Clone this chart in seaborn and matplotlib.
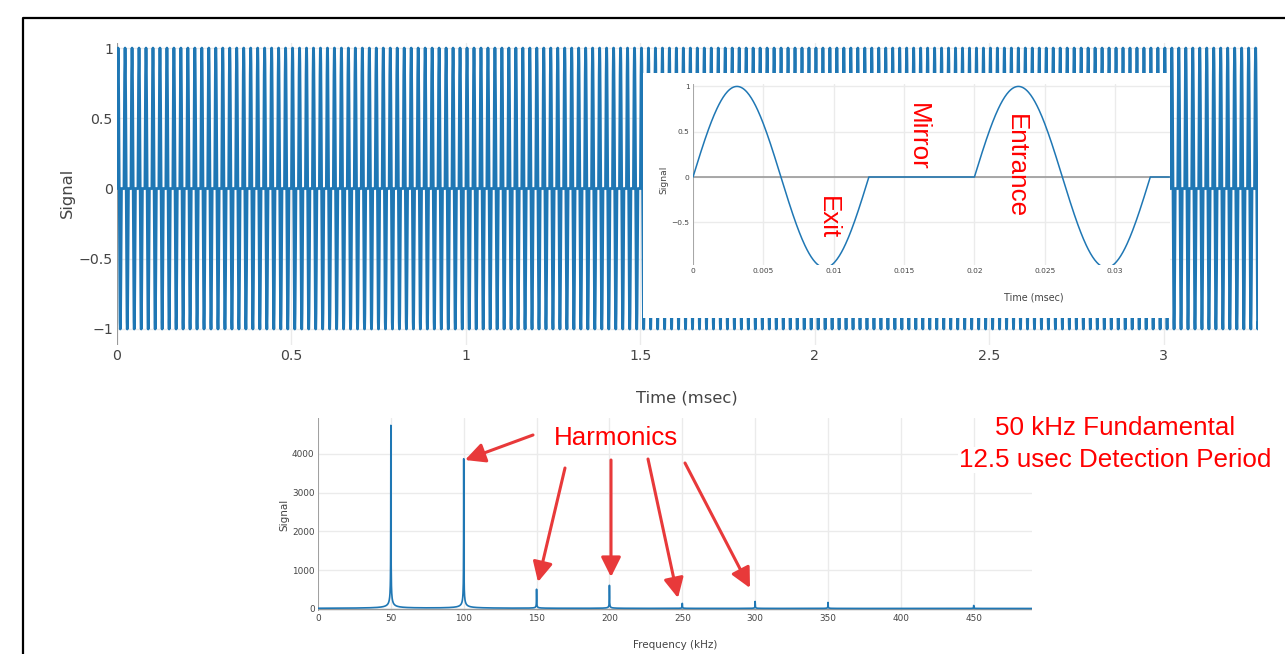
import numpy as np
import matplotlib
matplotlib.use("Agg")
import matplotlib.pyplot as plt
import seaborn as sns
from matplotlib.patches import Rectangle, FancyArrowPatch
from matplotlib.lines import Line2D

sns.set_theme(style="white")
plt.rcParams['font.family'] = ['DejaVu Sans']

# ---------------- data ----------------
period_ms = 0.02        # 50 kHz repetition period
burst_ms = 0.0125       # one sine cycle (12.5 usec detection period)
duration_ms = 3.27      # length of the time record
inset_end_ms = 0.0339   # visible end of the zoomed trace

harm_khz = [50, 100, 150, 200, 250, 300, 350, 400, 450]
harm_amp = [4722, 3860, 490, 594, 130, 180, 155, 0, 77]
spec_floor = 12
freq_max_khz = 490

main_xticks = [0, 0.5, 1, 1.5, 2, 2.5, 3]
main_xticklabels = ["0", "0.5", "1", "1.5", "2", "2.5", "3"]
main_yticks = [-1, -0.5, 0, 0.5, 1]
main_yticklabels = ["\u22121", "\u22120.5", "0", "0.5", "1"]
inset_xticks = [0, 0.005, 0.01, 0.015, 0.02, 0.025, 0.03]
inset_xticklabels = ["0", "0.005", "0.01", "0.015", "0.02", "0.025", "0.03"]
inset_yticks = [-0.5, 0, 0.5, 1]
inset_yticklabels = ["\u22120.5", "0", "0.5", "1"]
spec_xticks = [0, 50, 100, 150, 200, 250, 300, 350, 400, 450]
spec_yticks = [0, 1000, 2000, 3000, 4000]

# ---------------- helpers ----------------
W, H = 1285, 654
BLUE = "#1f77b4"
GRID = "#ebebeb"
ZERO = "#9a9a9a"
TICK = "#444444"
RED = "#ff0000"
ARROW = "#e8393a"


def fx(x):
    return x / W


def fy(y):
    return 1 - y / H


def rect(x0, y0, x1, y1):
    return [fx(x0), fy(y1), (x1 - x0) / W, (y1 - y0) / H]


def burst_wave(t):
    ph = np.mod(t, period_ms)
    return np.where(ph < burst_ms, np.sin(2 * np.pi * ph / burst_ms), 0.0)


def style_axes(ax, xt, xtl, yt, ytl, fs, pad):
    for s in ax.spines.values():
        s.set_visible(False)
    ax.set_xticks(xt)
    ax.set_xticklabels(xtl)
    ax.set_yticks(yt)
    ax.set_yticklabels(ytl)
    ax.tick_params(length=0, labelsize=fs, colors=TICK, pad=pad)
    ax.grid(True, color=GRID, lw=1.0)
    ax.set_axisbelow(True)
    ax.set_xlabel("")
    ax.set_ylabel("")


fig = plt.figure(figsize=(W / 100, H / 100), dpi=100)
fig.patch.set_facecolor("white")

# ---------------- main time trace ----------------
step = burst_ms / 40
t = np.arange(0, duration_ms + step / 2, step)
sig = burst_wave(t)

ax = fig.add_axes(rect(117, 43, 1258, 345))
ax.set_zorder(0)
sns.lineplot(x=t, y=sig, ax=ax, color=BLUE, linewidth=2.0,
             estimator=None, sort=False, errorbar=None)
ax.set_xlim(0, duration_ms)
ax.set_ylim(-1.114, 1.036)
style_axes(ax, main_xticks, main_xticklabels, main_yticks, main_yticklabels, 10.2, 3)
ax.axvline(0, color=ZERO, lw=1.5, zorder=1.5)
fig.text(fx(687), fy(398), "Time (msec)", ha="center", va="center", fontsize=11.8, color=TICK)
fig.text(fx(67), fy(193), "Signal", ha="center", va="center", rotation=90, fontsize=11.8, color=TICK)

# ---------------- inset (zoomed trace) ----------------
fig.patches.append(Rectangle((fx(643), fy(318)), (1170 - 643) / W, (318 - 73) / H,
                             transform=fig.transFigure, facecolor="white",
                             edgecolor="none", zorder=1))
ti = np.arange(0, inset_end_ms, 0.00005)
si = burst_wave(ti)
axi = fig.add_axes(rect(693, 83.7, 1170, 264.6))
axi.set_zorder(2)
axi.set_facecolor("white")
axi.axhline(0, color=ZERO, lw=1.2, zorder=1.5)
sns.lineplot(x=ti, y=si, ax=axi, color=BLUE, linewidth=1.1,
             estimator=None, sort=False, errorbar=None)
axi.set_xlim(0, inset_end_ms)
axi.set_ylim(-0.967, 1.03)
style_axes(axi, inset_xticks, inset_xticklabels, inset_yticks, inset_yticklabels, 5.4, 2.5)
axi.axvline(0, color=ZERO, lw=1.2, zorder=1.5)

inset_texts = []
inset_texts.append(fig.text(fx(664), fy(180), "Signal", ha="center", va="center", rotation=90,
                            fontsize=6.6, color=TICK))
inset_texts.append(fig.text(fx(1034), fy(298), "Time (msec)", ha="center", va="center",
                            fontsize=6.9, color=TICK))
for txt, (cx, cy) in [("Exit", (828, 218)), ("Mirror", (918, 137)), ("Entrance", (1016, 166))]:
    inset_texts.append(fig.text(fx(cx), fy(cy), txt, ha="center", va="center", rotation=-90,
                                fontsize=18.7, color=RED, family="Liberation Sans"))
for tx in inset_texts:
    tx.set_zorder(3)

# ---------------- spectrum ----------------
f = np.round(np.arange(0, freq_max_khz + 0.05, 0.1), 2)
spec = np.full_like(f, spec_floor, dtype=float)
for fk, ak in zip(harm_khz, harm_amp):
    spec += ak / np.sqrt(1 + ((f - fk) / 0.05) ** 2)

ax2 = fig.add_axes(rect(318, 418, 1032, 611))
sns.lineplot(x=f, y=spec, ax=ax2, color=BLUE, linewidth=1.2,
             estimator=None, sort=False, errorbar=None)
ax2.set_xlim(0, freq_max_khz)
ax2.set_ylim(-52, 4929)
style_axes(ax2, spec_xticks, [str(v) for v in spec_xticks],
           spec_yticks, [str(v) for v in spec_yticks], 6.4, 2.5)
ax2.axvline(0, color=ZERO, lw=1.3, zorder=1.5)
ax2.axhline(0, color=ZERO, lw=1.0, zorder=1.5)
fig.text(fx(675), fy(645), "Frequency (kHz)", ha="center", va="center", fontsize=7.5, color=TICK)
fig.text(fx(284), fy(515), "Signal", ha="center", va="center", rotation=90, fontsize=7.5, color=TICK)

# ---------------- annotations ----------------
fig.text(fx(616), fy(445), "Harmonics", ha="center", va="baseline", fontsize=18.7,
         color=RED, family="Liberation Sans", zorder=5)
arrows = [((533, 435), (465, 460)),
          ((565, 468), (538, 582)),
          ((611, 460), (611, 577)),
          ((648, 459), (678, 598)),
          ((685, 463), (750, 588))]
for (x0, y0), (x1, y1) in arrows:
    fig.patches.append(FancyArrowPatch((fx(x0), fy(y0)), (fx(x1), fy(y1)),
                                       transform=fig.transFigure,
                                       arrowstyle="-|>,head_length=0.6,head_width=0.3",
                                       mutation_scale=20, color=ARROW, lw=2.2,
                                       shrinkA=0, shrinkB=0, zorder=5))

for txt, yb in [("50 kHz Fundamental", 435), ("12.5 usec Detection Period", 467)]:
    fig.text(fx(1115), fy(yb), txt, ha="center", va="baseline", fontsize=18.7, color=RED,
             family="Liberation Sans", zorder=5,
             bbox=dict(facecolor="white", edgecolor="none", pad=1))

# ---------------- screenshot frame ----------------
fig.add_artist(Line2D([fx(23), fx(23), fx(1285)], [fy(654), fy(17.5), fy(17.5)],
                      transform=fig.transFigure, color="black", lw=1.6, zorder=10))

fig.savefig("out.png", dpi=100, facecolor="white")
